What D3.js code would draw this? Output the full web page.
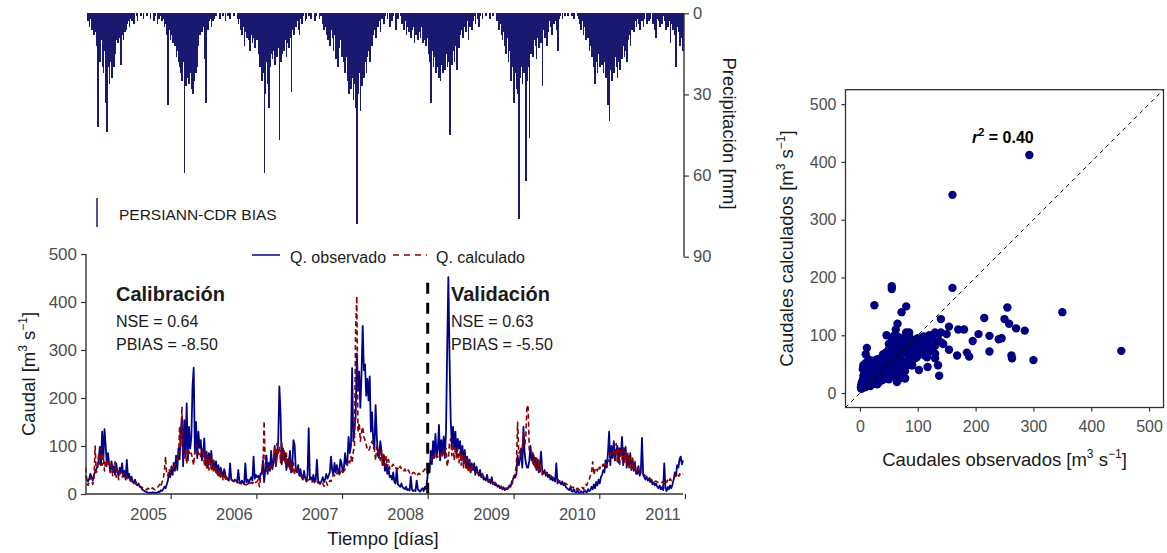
<!DOCTYPE html>
<html>
<head>
<meta charset="utf-8">
<script src="https://cdn.jsdelivr.net/npm/d3@7"></script>
<style>
  body { margin: 0; background: #fff; }
  svg { display: block; font-family: "Liberation Sans", Arial, sans-serif; }
</style>
</head>
<body>
<svg id="chart" width="1167" height="553"></svg>
<script>
// ---- Data: 5-day series starting 2004-01-05 ----
const startDate = "2004-01-05";
const stepDays = 5;
const validationStart = "2008-01-01";

// Daily rainfall depth (mm), PERSIANN-CDR bias-corrected
const precipitation = [
  0, 0, 3, 5, 2, 6, 4, 8, 7, 12,
  42, 15, 18, 10, 20, 22, 14, 33, 44, 20,
  26, 18, 24, 12, 20, 15, 10, 11, 9, 8,
  19, 8, 10, 7, 6, 4, 3, 5, 2, 3,
  2, 4, 0, 1, 3, 0, 0, 1, 0, 2,
  0, 0, 1, 0, 0, 2, 0, 0, 3, 1,
  0, 4, 2, 0, 1, 3, 2, 5, 4, 8,
  34, 6, 10, 8, 11, 9, 12, 16, 14, 18,
  20, 22, 25, 18, 59, 27, 24, 20, 26, 22,
  28, 30, 25, 17, 22, 20, 12, 8, 6, 7,
  5, 17, 33, 4, 6, 3, 2, 5, 3, 2,
  0, 1, 0, 0, 2, 0, 0, 1, 0, 3,
  0, 1, 0, 2, 0, 0, 1, 0, 0, 2,
  4, 2, 6, 8, 5, 12, 7, 9, 6, 10,
  14, 8, 11, 9, 13, 7, 10, 15, 20, 18,
  25, 22, 59, 30, 18, 26, 35, 20, 15, 17,
  14, 19, 12, 16, 13, 47, 18, 15, 12, 14,
  10, 16, 11, 13, 9, 29, 6, 8, 4, 5,
  3, 6, 8, 2, 4, 1, 0, 3, 2, 0,
  1, 0, 2, 0, 0, 3, 1, 0, 0, 2,
  1, 0, 4, 6, 5, 8, 10, 7, 12, 6,
  9, 14, 8, 17, 11, 20, 13, 10, 16, 15,
  18, 22, 16, 25, 30, 20, 28, 24, 32, 26,
  35, 78, 30, 22, 36, 27, 20, 24, 18, 22,
  16, 14, 18, 10, 12, 8, 6, 9, 4, 5,
  3, 7, 2, 0, 4, 1, 0, 2, 0, 5,
  0, 3, 1, 0, 6, 0, 2, 0, 1, 4,
  2, 6, 3, 8, 5, 7, 4, 9, 6, 5,
  11, 8, 6, 10, 7, 9, 5, 11, 8, 10,
  12, 9, 15, 18, 33, 14, 20, 16, 22, 18,
  20, 24, 25, 19, 22, 17, 21, 15, 20, 18,
  45, 16, 19, 14, 18, 12, 21, 10, 13, 8,
  6, 9, 4, 5, 7, 3, 10, 5, 2, 6,
  3, 1, 4, 0, 2, 5, 1, 0, 2, 0,
  0, 1, 0, 0, 2, 0, 0, 1, 0, 0,
  3, 2, 6, 4, 8, 10, 7, 12, 15, 9,
  18, 14, 25, 20, 16, 33, 22, 28, 30, 76,
  24, 20, 26, 22, 18, 62, 25, 20, 46, 15,
  14, 16, 10, 12, 17, 9, 13, 8, 11, 27,
  6, 9, 4, 12, 7, 3, 5, 8, 2, 4,
  3, 6, 14, 2, 1, 0, 2, 0, 1, 0,
  0, 1, 0, 0, 1, 0, 2, 0, 0, 1,
  2, 4, 6, 3, 8, 5, 10, 7, 9, 14,
  12, 16, 14, 20, 26, 18, 22, 15, 20, 17,
  19, 22, 18, 24, 20, 34, 40, 21, 25, 18,
  22, 16, 20, 24, 18, 21, 15, 17, 12, 16,
  14, 18, 10, 8, 12, 6, 4, 7, 3, 5,
  2, 4, 6, 1, 3, 5, 2, 0, 4, 1,
  3, 2, 0, 4, 1, 6, 9, 2, 3, 5,
  2, 4, 1, 3, 6, 2, 5, 3, 11, 4,
  6, 3, 8, 20, 5, 7, 12, 4, 9, 14
];

// Observed discharge (m3/s)
const observed = [
  38, 30, 26, 32, 42, 35, 28, 40, 46, 52,
  58, 70, 98, 60, 130, 72, 135, 100, 62, 85,
  62, 45, 68, 50, 58, 40, 64, 45, 38, 55,
  44, 64, 36, 48, 30, 71, 34, 42, 28, 36,
  26, 22, 30, 20, 18, 22, 15, 14, 10, 8,
  6, 5, 4, 3, 2, 3, 2, 4, 2, 3,
  2, 3, 5, 4, 8, 6, 10, 15, 12, 20,
  28, 45, 35, 55, 40, 65, 48, 80, 50, 95,
  72, 130, 160, 58, 154, 80, 189, 70, 140, 95,
  118, 224, 263, 85, 150, 75, 130, 96, 112, 70,
  80, 116, 60, 88, 55, 85, 64, 90, 52, 70,
  50, 68, 42, 60, 38, 55, 44, 36, 52, 40,
  32, 30, 28, 64, 30, 28, 26, 30, 28, 24,
  50, 26, 22, 28, 24, 20, 64, 25, 30, 22,
  30, 35, 28, 78, 32, 40, 35, 38, 30, 42,
  45, 70, 25, 50, 80, 42, 65, 48, 90, 52,
  65, 100, 58, 80, 110, 224, 168, 62, 95, 70,
  85, 50, 72, 58, 90, 45, 60, 112, 102, 50,
  45, 60, 38, 52, 35, 30, 48, 33, 26, 40,
  137, 30, 35, 28, 40, 25, 30, 71, 28, 24,
  22, 28, 35, 25, 30, 42, 32, 38, 45, 78,
  50, 40, 65, 45, 60, 48, 42, 72, 64, 46,
  55, 85, 62, 70, 119, 85, 100, 262, 110, 135,
  160, 293, 215, 255, 180, 250, 350, 258, 270, 205,
  240, 195, 245, 130, 170, 110, 95, 185, 120, 80,
  75, 110, 90, 60, 80, 48, 62, 42, 55, 35,
  38, 30, 45, 25, 22, 53, 20, 18, 15, 22,
  14, 12, 10, 15, 8, 10, 7, 36, 9, 6,
  8, 6, 28, 10, 7, 5, 9, 12, 6, 15,
  10, 30, 55, 45, 90, 62, 110, 75, 125, 80,
  90, 144, 70, 112, 85, 120, 75, 130, 300, 452,
  285, 154, 100, 140, 95, 130, 80, 115, 95, 110,
  70, 100, 65, 92, 60, 78, 52, 72, 45, 64,
  50, 64, 40, 57, 45, 38, 50, 35, 42, 30,
  32, 28, 40, 25, 30, 22, 35, 20, 24, 18,
  20, 15, 18, 12, 16, 10, 14, 8, 12, 10,
  12, 18, 15, 25, 30, 38, 35, 42, 80, 60,
  72, 95, 55, 140, 85, 65, 55, 55, 70, 100,
  70, 85, 60, 75, 50, 72, 45, 62, 88, 48,
  42, 50, 38, 45, 35, 40, 30, 34, 28, 32,
  26, 64, 22, 28, 24, 20, 26, 18, 22, 15,
  12, 10, 8, 14, 6, 5, 10, 4, 3, 8,
  3, 2, 6, 4, 2, 8, 5, 3, 10, 6,
  8, 15, 10, 20, 12, 25, 18, 30, 22, 35,
  40, 50, 45, 70, 55, 85, 130, 60, 100, 75,
  110, 70, 85, 100, 65, 95, 80, 119, 60, 90,
  98, 55, 80, 60, 85, 50, 70, 48, 65, 42,
  42, 58, 38, 45, 117, 40, 35, 30, 36, 28,
  32, 25, 28, 20, 24, 18, 22, 15, 12, 18,
  10, 14, 8, 64, 12, 6, 15, 10, 18, 12,
  20, 30, 45, 38, 60, 55, 72, 78, 62, 70
];

// Simulated discharge (m3/s)
const calculated = [
  55, 22, 18, 25, 35, 28, 20, 30, 100, 45,
  50, 85, 62, 95, 60, 80, 48, 70, 55, 66,
  72, 45, 60, 38, 55, 67, 35, 50, 30, 45,
  40, 35, 42, 38, 33, 36, 30, 34, 28, 26,
  28, 24, 22, 25, 20, 18, 17, 15, 14, 12,
  12, 10, 9, 12, 10, 8, 11, 13, 10, 9,
  12, 14, 16, 20, 15, 25, 30, 48, 78, 40,
  38, 52, 45, 58, 50, 55, 62, 70, 75, 72,
  140, 100, 182, 85, 75, 90, 63, 95, 88, 80,
  85, 72, 60, 90, 102, 96, 82, 88, 78, 85,
  95, 62, 88, 55, 80, 50, 78, 48, 70, 45,
  60, 42, 55, 35, 50, 32, 46, 30, 40, 28,
  35, 33, 32, 30, 31, 28, 27, 26, 25, 24,
  24, 22, 23, 21, 20, 22, 19, 20, 21, 18,
  20, 24, 22, 25, 28, 24, 26, 30, 15, 35,
  40, 55, 152, 60, 48, 52, 62, 58, 50, 66,
  70, 95, 60, 105, 80, 99, 65, 110, 72, 90,
  62, 85, 55, 75, 48, 70, 42, 65, 40, 58,
  48, 45, 40, 38, 36, 34, 32, 30, 32, 28,
  30, 28, 26, 25, 27, 24, 22, 26, 23, 22,
  20, 18, 22, 16, 20, 25, 18, 22, 28, 26,
  35, 40, 38, 45, 42, 48, 40, 44, 50, 45,
  48, 52, 55, 60, 72, 65, 78, 65, 88, 100,
  343, 412, 130, 148, 110, 128, 140, 120, 112, 102,
  93, 90, 95, 105, 110, 98, 92, 70, 100, 88,
  95, 70, 92, 62, 85, 58, 80, 55, 72, 52,
  60, 58, 62, 55, 56, 52, 54, 50, 58, 52,
  50, 48, 52, 45, 47, 50, 44, 46, 42, 45,
  44, 42, 45, 40, 43, 41, 44, 46, 48, 52,
  50, 55, 60, 65, 70, 78, 72, 85, 80, 76,
  78, 85, 80, 90, 76, 92, 88, 95, 57, 73,
  108, 115, 80, 105, 70, 99, 75, 95, 65, 88,
  60, 85, 55, 80, 50, 72, 45, 68, 42, 62,
  54, 50, 48, 46, 44, 42, 40, 38, 40, 36,
  34, 32, 30, 28, 30, 26, 25, 24, 22, 24,
  20, 18, 16, 15, 14, 12, 13, 10, 12, 11,
  14, 12, 18, 20, 25, 30, 45, 60, 150, 85,
  90, 78, 95, 128, 100, 120, 185, 180, 90, 85,
  88, 60, 80, 52, 75, 48, 70, 42, 62, 40,
  48, 45, 44, 42, 40, 38, 40, 36, 35, 34,
  32, 30, 31, 28, 27, 26, 25, 24, 23, 22,
  20, 18, 16, 17, 14, 13, 15, 12, 10, 12,
  10, 8, 12, 14, 10, 16, 20, 18, 25, 30,
  38, 45, 67, 40, 50, 55, 48, 58, 52, 60,
  58, 62, 55, 64, 60, 70, 68, 80, 90, 85,
  95, 70, 105, 65, 98, 60, 92, 72, 100, 64,
  90, 62, 85, 55, 80, 50, 75, 48, 68, 45,
  55, 50, 48, 46, 45, 42, 40, 38, 36, 35,
  34, 32, 30, 28, 30, 26, 27, 25, 24, 26,
  25, 24, 26, 22, 28, 24, 30, 26, 32, 28,
  30, 34, 36, 38, 40, 35, 42, 38, 40, 42
];

const yearTicks = [2005, 2006, 2007, 2008, 2009, 2010, 2011];
const flowTicks = [0, 100, 200, 300, 400, 500];
const rainTicks = [0, 30, 60, 90];
const scatterTicks = [0, 100, 200, 300, 400, 500];

// ---- Setup ----
const svg = d3.select("#chart");
const DAY = 864e5;
const t0 = new Date(startDate + "T00:00:00Z").getTime();
const dates = observed.map((_, i) => new Date(t0 + i * stepDays * DAY));

const OBS = "#00008b", CALC = "#8b0000", RAIN = "#191970";
const AXIS = "#333333", TICKTXT = "#4d4d4d";

const x = d3.scaleUtc()
  .domain([new Date(Date.UTC(2005, 0, 1)), new Date(Date.UTC(2008, 0, 1))])
  .range([170.7, 427.7]);
const yQ = d3.scaleLinear().domain([0, 500]).range([494, 254]);
const yP = d3.scaleLinear().domain([0, 90]).range([13.3, 256.7]);

const bw = x(new Date(t0 + stepDays * DAY)) - x(new Date(t0));

function styleAxis(g, size) {
  g.select(".domain").remove();
  g.selectAll(".tick line").attr("stroke", AXIS).attr("stroke-width", 1.2);
  g.selectAll(".tick text").attr("fill", TICKTXT).attr("font-size", size)
    .attr("font-family", "Liberation Sans, Arial, sans-serif");
}

// ---- Rainfall hyetograph (inverted bars) ----
svg.append("g").attr("shape-rendering", "crispEdges")
  .selectAll("rect")
  .data(precipitation)
  .join("rect")
  .attr("x", (d, i) => x(dates[i]) - bw / 2)
  .attr("y", yP(0))
  .attr("width", bw + 0.5)
  .attr("height", d => yP(d) - yP(0))
  .attr("fill", RAIN);

const rainAxis = svg.append("g")
  .attr("transform", `translate(684,0)`)
  .call(d3.axisRight(yP).tickValues(rainTicks).tickSize(5).tickPadding(4));
styleAxis(rainAxis, 16.5);
svg.append("line").attr("x1", 684).attr("x2", 684)
  .attr("y1", yP(0)).attr("y2", yP(90)).attr("stroke", AXIS).attr("stroke-width", 1.4);

svg.append("text")
  .attr("transform", "translate(723,133.5) rotate(90)")
  .attr("text-anchor", "middle").attr("font-size", 18.5).attr("fill", "#1a1a1a")
  .text("Precipitación [mm]");

// rainfall legend
svg.append("line").attr("x1", 97).attr("x2", 97).attr("y1", 198).attr("y2", 227)
  .attr("stroke", RAIN).attr("stroke-width", 1.5);
svg.append("text").attr("x", 119).attr("y", 220).attr("font-size", 15.5)
  .attr("fill", "#1a1a1a").text("PERSIANN-CDR BIAS");

// ---- Hydrograph ----
const line = d3.line()
  .x((d, i) => x(dates[i]))
  .y(d => yQ(d));

svg.append("path").datum(observed)
  .attr("d", line).attr("fill", "none").attr("stroke", OBS)
  .attr("stroke-width", 1.8).attr("stroke-linejoin", "round");
svg.append("path").datum(calculated)
  .attr("d", line).attr("fill", "none").attr("stroke", CALC)
  .attr("stroke-width", 1.6).attr("stroke-linejoin", "round")
  .attr("stroke-dasharray", "5,3");

// validation split
const xv = x(new Date(validationStart + "T00:00:00Z"));
svg.append("line").attr("x1", xv).attr("x2", xv)
  .attr("y1", yQ(440)).attr("y2", yQ(0))
  .attr("stroke", "#000").attr("stroke-width", 3).attr("stroke-dasharray", "11,9");

// axes
const qAxis = svg.append("g").attr("transform", "translate(86,0)")
  .call(d3.axisLeft(yQ).tickValues(flowTicks).tickSize(5).tickPadding(4));
styleAxis(qAxis, 17);
const tAxis = svg.append("g").attr("transform", "translate(0,494)")
  .call(d3.axisBottom(x)
    .tickValues(yearTicks.map(yv => new Date(Date.UTC(yv, 0, 1))))
    .tickFormat(d3.utcFormat("%Y")).tickSize(5).tickPadding(9));
styleAxis(tAxis, 16.5);
tAxis.selectAll(".tick text").attr("dx", -22.5);
svg.append("line").attr("x1", 86).attr("x2", 86).attr("y1", 254).attr("y2", 494)
  .attr("stroke", AXIS).attr("stroke-width", 1.4);
svg.append("line").attr("x1", 86).attr("x2", 683).attr("y1", 494).attr("y2", 494)
  .attr("stroke", AXIS).attr("stroke-width", 1.4);

function supLabel(sel, parts) {
  parts.forEach(p => {
    const t = sel.append("tspan").text(p.t);
    if (p.sup) t.attr("font-size", 12).attr("dy", p.dy);
    else if (p.dy) t.attr("dy", p.dy);
  });
}

const yTitle = svg.append("text")
  .attr("transform", "translate(35,374) rotate(-90)")
  .attr("text-anchor", "middle").attr("font-size", 18.5).attr("fill", "#1a1a1a");
supLabel(yTitle, [{t: "Caudal [m"}, {t: "3", sup: true, dy: -8}, {t: " s", dy: 8},
  {t: "\u22121", sup: true, dy: -8}, {t: "]", dy: 8}]);

svg.append("text").attr("x", 383).attr("y", 545).attr("text-anchor", "middle")
  .attr("font-size", 18.5).attr("fill", "#1a1a1a").text("Tiempo [días]");

// legend
svg.append("line").attr("x1", 252).attr("x2", 280).attr("y1", 255).attr("y2", 255)
  .attr("stroke", OBS).attr("stroke-width", 1.5);
svg.append("text").attr("x", 290).attr("y", 263).attr("font-size", 16)
  .attr("fill", "#1a1a1a").text("Q. observado");
svg.append("line").attr("x1", 393).attr("x2", 427).attr("y1", 255).attr("y2", 255)
  .attr("stroke", CALC).attr("stroke-width", 1.5).attr("stroke-dasharray", "6,5");
svg.append("text").attr("x", 436).attr("y", 263).attr("font-size", 16)
  .attr("fill", "#1a1a1a").text("Q. calculado");

// period annotations
function periodLabel(x0, title, nse, pbias) {
  svg.append("text").attr("x", x0).attr("y", 301).attr("font-size", 20)
    .attr("font-weight", "bold").attr("fill", "#1a1a1a").text(title);
  svg.append("text").attr("x", x0).attr("y", 327).attr("font-size", 16)
    .attr("fill", "#1a1a1a").text("NSE = " + nse);
  svg.append("text").attr("x", x0).attr("y", 350).attr("font-size", 16)
    .attr("fill", "#1a1a1a").text("PBIAS = " + pbias);
}
periodLabel(116, "Calibración", "0.64", "-8.50");
periodLabel(451, "Validación", "0.63", "-5.50");

// ---- Scatter: observed vs calculated ----
const sx = d3.scaleLinear().domain([-25, 525]).range([845.5, 1163.5]);
const sy = d3.scaleLinear().domain([-25, 525]).range([407.5, 89.7]);

svg.append("clipPath").attr("id", "panel").append("rect")
  .attr("x", sx(-25)).attr("y", sy(525))
  .attr("width", sx(525) - sx(-25)).attr("height", sy(-25) - sy(525));

const pairs = observed.map((o, i) => [o, calculated[i]]);
svg.append("g").attr("clip-path", "url(#panel)")
  .selectAll("circle").data(pairs).join("circle")
  .attr("cx", d => sx(d[0])).attr("cy", d => sy(d[1]))
  .attr("r", 4.2).attr("fill", "#000080");

svg.append("line").attr("clip-path", "url(#panel)")
  .attr("x1", sx(-25)).attr("y1", sy(-25)).attr("x2", sx(525)).attr("y2", sy(525))
  .attr("stroke", "#000").attr("stroke-width", 1).attr("stroke-dasharray", "4,4");

svg.append("rect").attr("x", sx(-25)).attr("y", sy(525))
  .attr("width", sx(525) - sx(-25)).attr("height", sy(-25) - sy(525))
  .attr("fill", "none").attr("stroke", AXIS).attr("stroke-width", 1.3);

const sAxisY = svg.append("g").attr("transform", `translate(${sx(-25)},0)`)
  .call(d3.axisLeft(sy).tickValues(scatterTicks).tickSize(4).tickPadding(5));
styleAxis(sAxisY, 16);
const sAxisX = svg.append("g").attr("transform", `translate(0,${sy(-25)})`)
  .call(d3.axisBottom(sx).tickValues(scatterTicks).tickSize(4).tickPadding(9));
styleAxis(sAxisX, 16);

const sxTitle = svg.append("text").attr("x", 1004.5).attr("y", 466)
  .attr("text-anchor", "middle").attr("font-size", 18.5).attr("fill", "#1a1a1a");
supLabel(sxTitle, [{t: "Caudales observados [m"}, {t: "3", sup: true, dy: -8}, {t: " s", dy: 8},
  {t: "\u22121", sup: true, dy: -8}, {t: "]", dy: 8}]);
const syTitle = svg.append("text")
  .attr("transform", "translate(793,248.5) rotate(-90)")
  .attr("text-anchor", "middle").attr("font-size", 18.5).attr("fill", "#1a1a1a");
supLabel(syTitle, [{t: "Caudales calculados [m"}, {t: "3", sup: true, dy: -8}, {t: " s", dy: 8},
  {t: "\u22121", sup: true, dy: -8}, {t: "]", dy: 8}]);

const r2 = svg.append("text").attr("x", 972).attr("y", 143)
  .attr("font-size", 16).attr("font-weight", "bold").attr("fill", "#000");
r2.append("tspan").attr("font-style", "italic").text("r");
r2.append("tspan").attr("font-size", 11).attr("dy", -7).text("2");
r2.append("tspan").attr("dy", 7).text(" = 0.40");
</script>
</body>
</html>
